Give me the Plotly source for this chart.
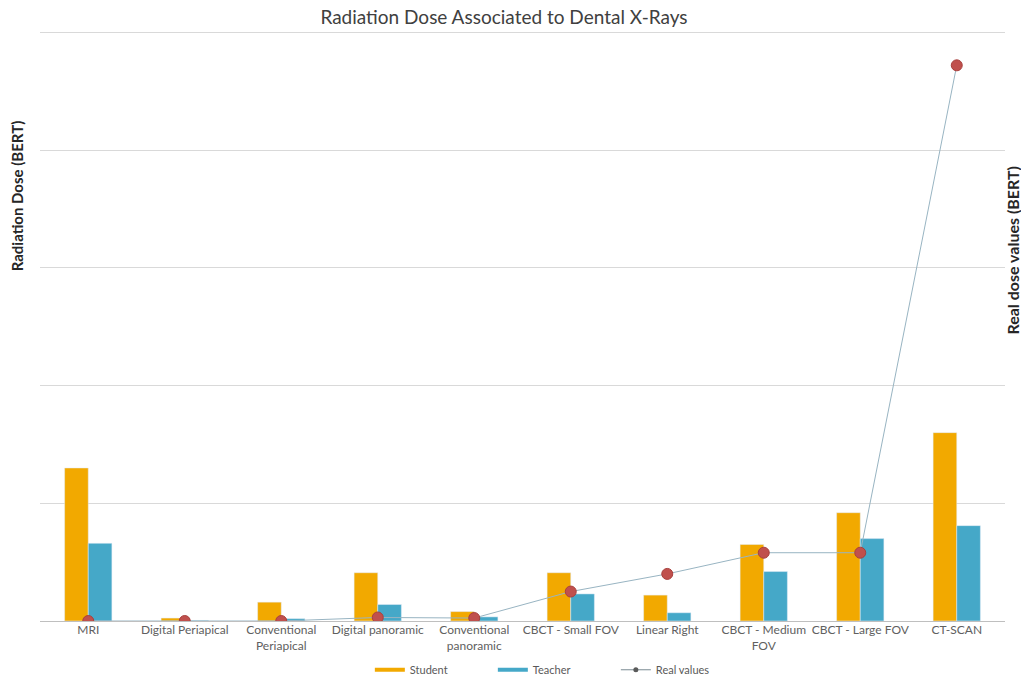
import plotly.graph_objects as go

categories = ["MRI", "Digital Periapical", "Conventional<br>Periapical", "Digital panoramic",
              "Conventional<br>panoramic", "CBCT - Small FOV", "Linear Right",
              "CBCT - Medium<br>FOV", "CBCT - Large FOV", "CT-SCAN"]
student = [1.30, 0.025, 0.16, 0.41, 0.08, 0.41, 0.22, 0.65, 0.92, 1.60]
teacher = [0.66, 0.005, 0.02, 0.14, 0.035, 0.23, 0.07, 0.42, 0.70, 0.81]
real_values = [0.0, 0.0, 0.0, 0.03, 0.025, 0.25, 0.40, 0.58, 0.58, 4.72]

STUDENT_C = "#F2A900"
TEACHER_C = "#45A8C8"
MARK_C = "#C0504D"
LINE_C = "#98B4C2"
FONT = "Lato"

fig = go.Figure()
fig.add_trace(go.Bar(x=categories, y=student, name="Student", marker_color=STUDENT_C,
                     showlegend=False))
fig.add_trace(go.Bar(x=categories, y=teacher, name="Teacher", marker_color=TEACHER_C,
                     showlegend=False))
fig.add_trace(go.Scatter(x=categories, y=real_values, name="Real values", yaxis="y2",
                         mode="lines+markers", line=dict(color=LINE_C, width=1),
                         marker=dict(color=MARK_C, size=11, line=dict(color="#A8403D", width=1)),
                         showlegend=False))
# legend entries
fig.add_trace(go.Scatter(x=[categories[0]], y=[None], mode="lines", name="Student",
                         line=dict(color=STUDENT_C, width=4)))
fig.add_trace(go.Scatter(x=[categories[0]], y=[None], mode="lines", name="Teacher",
                         line=dict(color=TEACHER_C, width=4)))
fig.add_trace(go.Scatter(x=[categories[0]], y=[None], mode="lines+markers", name="Real values",
                         line=dict(color="#7A8A92", width=1),
                         marker=dict(color="#5A5A5A", size=5)))

fig.update_layout(
    width=1021, height=679,
    margin=dict(l=40, r=16, t=30, b=58, autoexpand=False),
    paper_bgcolor="white", plot_bgcolor="white",
    font=dict(family=FONT, color="#595959", size=11),
    title=dict(text="Radiation Dose Associated to Dental X-Rays", x=0.4936, xanchor="center",
               y=0.975, yanchor="middle", font=dict(size=19, color="#404040")),
    barmode="group", bargap=0.51, bargroupgap=0,
    xaxis=dict(range=[-0.5, 9.5], showgrid=False, showline=False, ticks="", automargin=False,
               tickangle=0, tickfont=dict(size=12, color="#606060")),
    yaxis=dict(range=[0, 5.02], dtick=1, showticklabels=False, showgrid=True,
               gridcolor="#D9D9D9", gridwidth=1, zeroline=True, zerolinecolor="#BFBFBF",
               zerolinewidth=1, showline=False, ticks="", automargin=False),
    yaxis2=dict(range=[0, 5.02], overlaying="y", side="right", showticklabels=False,
                showgrid=False, zeroline=False, showline=False, ticks="", automargin=False),
    legend=dict(orientation="h", x=0.533, xanchor="center", y=-0.058, yanchor="top",
                font=dict(size=11, color="#595959"), itemwidth=30,
                traceorder="normal", entrywidth=78),
    annotations=[
        dict(text="<b>Radiation Dose (BERT)</b>", xref="paper", yref="paper",
             x=-0.023, y=0.72, textangle=-90, showarrow=False, xanchor="center",
             yanchor="middle", font=dict(size=15, color="#262626")),
        dict(text="<b>Real dose values (BERT)</b>", xref="paper", yref="paper",
             x=1.008, y=0.628, textangle=-90, showarrow=False, xanchor="center",
             yanchor="middle", font=dict(size=16, color="#262626")),
    ],
)

fig.write_html("out.html")
